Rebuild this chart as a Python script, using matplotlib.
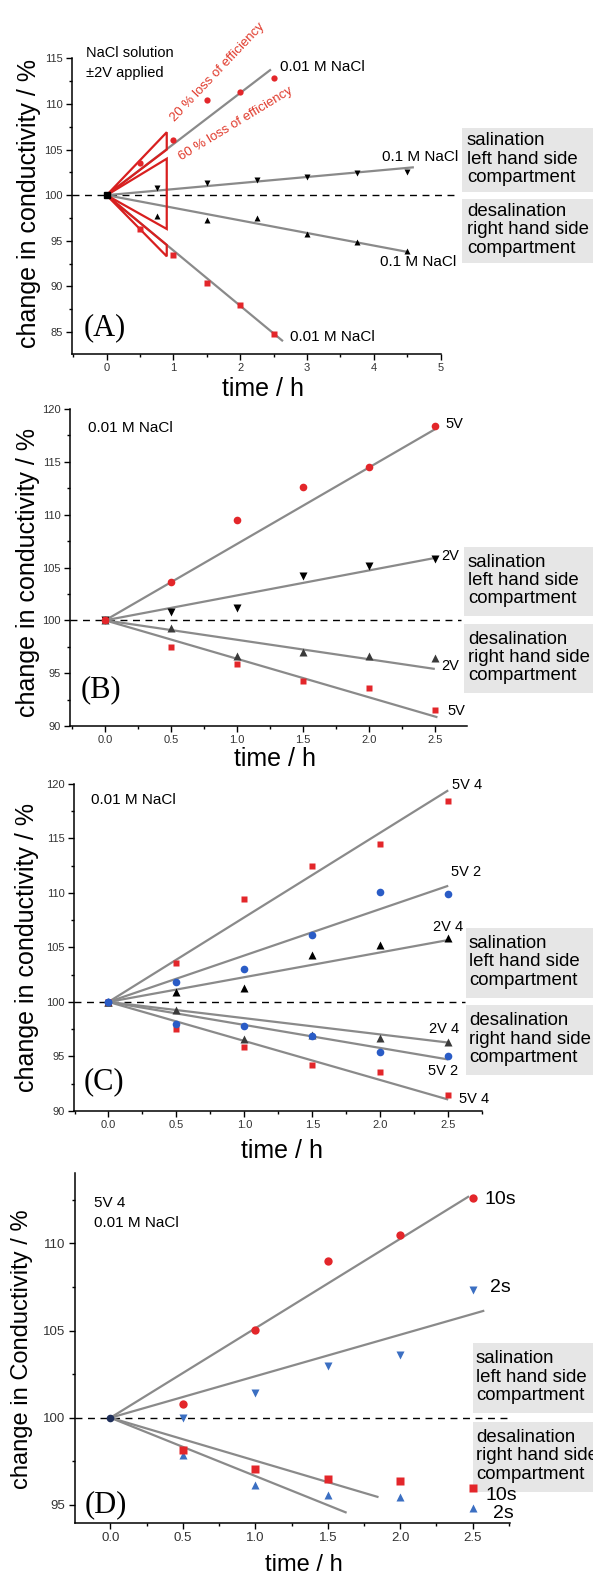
import numpy as np
import matplotlib.pyplot as plt
from matplotlib.patches import Rectangle, Polygon
from matplotlib.ticker import MultipleLocator

plt.rcParams['font.family'] = ['Liberation Sans', 'DejaVu Sans']

W, H = 593, 1576

# ---------------- data ----------------
# (A) NaCl solution, +-2V
a_t = [0, 0.5, 1.0, 1.5, 2.0, 2.5]
a_sal_001 = [100, 103.5, 106.0, 110.4, 111.3, 112.8]
a_des_001 = [100, 96.3, 93.5, 90.4, 88.0, 84.8]
a_t_01 = [0.75, 1.5, 2.25, 3.0, 3.75, 4.5]
a_sal_01 = [100.8, 101.3, 101.7, 102.0, 102.4, 102.5]
a_des_01 = [97.7, 97.3, 97.55, 95.7, 94.9, 93.9]
a_fit_slope = [5.6, -6.06, 0.665, -1.38]
a_fit_end = [2.46, 2.64, 4.6, 4.52]
a_tri_20 = [(0, 100), (0.9, 106.9), (0.9, 105.0)]
a_tri_60 = [(0, 100), (0.9, 104.0), (0.9, 96.3)]
a_tri_low = [(0, 100), (0.9, 94.55), (0.9, 93.3)]

# (B) 0.01 M NaCl, 5V / 2V
b_t = [0, 0.5, 1.0, 1.5, 2.0, 2.5]
b_sal_5v = [100, 103.6, 109.5, 112.6, 114.5, 118.4]
b_sal_2v = [100, 100.8, 101.2, 104.2, 105.1, 105.8]
b_des_2v = [100, 99.3, 96.6, 97.0, 96.6, 96.4]
b_des_5v = [100, 97.5, 95.9, 94.3, 93.6, 91.5]
b_fit_slope = [7.23, 2.36, -1.84, -3.64]
b_fit_end = [2.5, 2.5, 2.5, 2.52]

# (C) 0.01 M NaCl, 5V 4 / 5V 2 / 2V 4
c_t = [0, 0.5, 1.0, 1.5, 2.0, 2.5]
c_sal_54 = [100, 103.6, 109.4, 112.5, 114.5, 118.4]
c_sal_52 = [100, 101.85, 103.0, 106.1, 110.1, 109.9]
c_sal_24 = [100, 100.9, 101.3, 104.3, 105.2, 105.9]
c_des_24 = [100, 99.3, 96.6, 97.0, 96.65, 96.3]
c_des_52 = [100, 98.0, 97.8, 96.9, 95.4, 95.05]
c_des_54 = [100, 97.5, 95.9, 94.2, 93.6, 91.45]
c_fit_slope = [7.76, 4.26, 2.27, -1.49, -2.11, -3.58]
c_fit_end = [2.5, 2.5, 2.5, 2.5, 2.5, 2.5]

# (D) 5V 4, 0.01 M NaCl, 10s / 2s
d_t = [0, 0.5, 1.0, 1.5, 2.0, 2.5]
d_sal_10 = [100, 100.8, 105.03, 108.97, 110.46, 112.6]
d_sal_2 = [100, 100.0, 101.4, 102.98, 103.6, 107.3]
d_des_10 = [100, 98.15, 97.04, 96.47, 96.37, 95.95]
d_des_2 = [100, 97.86, 96.12, 95.57, 95.44, 94.8]
d_fit_slope = [5.13, 2.38, -2.46, -3.34]
d_fit_end = [2.475, 2.58, 1.85, 1.63]

RED = '#e3262a'
BLUE = '#2a5cc6'
BLUE_D = '#3b6fc2'
GREY = '#8a8a8a'
BOX = '#e6e6e6'

fig = plt.figure(figsize=(W / 100, H / 100), dpi=100)


def ax_at(l, r, t, b, lsize=8):
    ax = fig.add_axes([l / W, 1 - b / H, (r - l) / W, (b - t) / H])
    ax.set_zorder(2)
    ax.patch.set_visible(False)
    for s in ['top', 'right']:
        ax.spines[s].set_visible(False)
    for s in ['left', 'bottom']:
        ax.spines[s].set_linewidth(1.1)
    ax.tick_params(which='both', direction='out', colors='black', labelcolor='#333333',
                   labelsize=lsize, pad=2.5)
    ax.tick_params(which='major', length=4, width=1)
    ax.tick_params(which='minor', length=2.5, width=1)
    return ax


def ftext(x, y, s, **kw):
    fig.text(x / W, 1 - y / H, s, **kw)


def box(x, y0, y1, lines, tx):
    fig.add_artist(Rectangle((x / W, 1 - y1 / H), (W - x) / W, (y1 - y0) / H,
                             transform=fig.transFigure, color=BOX, zorder=1, lw=0))
    ftext(tx, (y0 + y1) / 2 - 1, lines, fontsize=13.4, ha='left', va='center',
          linespacing=1.1, zorder=3)


def fits(ax, slopes, ends):
    for k, e in zip(slopes, ends):
        xs = np.array([0, e])
        ax.plot(xs, 100 + k * xs, color=GREY, lw=1.6, zorder=2, solid_capstyle='butt')


def dash(ax, x0, x1):
    ax.plot([x0, x1], [100, 100], color='black', lw=1, ls=(0, (5, 4)), zorder=1, clip_on=False)


SAL = 'salination\nleft hand side\ncompartment'
DES = 'desalination\nright hand side\ncompartment'

# ---------------- (A) ----------------
ax = ax_at(71.9, 440.6, 58.3, 354)
ax.set_xlim(-0.52, 5)
ax.set_ylim(82.6, 115)
ax.xaxis.set_major_locator(MultipleLocator(1))
ax.xaxis.set_minor_locator(MultipleLocator(0.5))
ax.yaxis.set_major_locator(MultipleLocator(5))
ax.yaxis.set_minor_locator(MultipleLocator(2.5))
dash(ax, -0.52, 5.25)
fits(ax, a_fit_slope, a_fit_end)
for tri in [a_tri_20, a_tri_60, a_tri_low]:
    ax.add_patch(Polygon(tri, closed=True, fill=False, ec='#d81f1f', lw=1.6, zorder=3,
                         joinstyle='miter'))
ax.plot(a_t, a_sal_001, 'o', color=RED, ms=4.5, mec='none', zorder=4)
ax.plot(a_t, a_des_001, 's', color=RED, ms=4.2, mec='none', zorder=4)
ax.plot(a_t_01, a_sal_01, 'v', color='black', ms=5, mec='none', zorder=4)
ax.plot(a_t_01, a_des_01, '^', color='black', ms=5, mec='none', zorder=4)
ax.plot([0], [100], 's', color='black', ms=4.5, zorder=5)
ftext(29, 203, 'change in conductivity / %', rotation=90, fontsize=18, ha='center', va='center')
ftext(263, 389, 'time / h', fontsize=18, ha='center', va='center')
ftext(86, 53, 'NaCl solution', fontsize=10.5, ha='left', va='center')
ftext(86, 73, '±2V applied', fontsize=10.5, ha='left', va='center')
ftext(280, 67, '0.01 M NaCl', fontsize=11, ha='left', va='center')
ftext(458, 157, '0.1 M NaCl', fontsize=11, ha='right', va='center')
ftext(380, 262, '0.1 M NaCl', fontsize=11, ha='left', va='center')
ftext(290, 337, '0.01 M NaCl', fontsize=11, ha='left', va='center')
ftext(84, 328, '(A)', fontsize=22, family='Liberation Serif', ha='left', va='center')
ftext(218, 72, '20 % loss of efficiency', fontsize=9.5, color='#e0392b', rotation=46.6,
      ha='center', va='center')
ftext(236, 124, '60 % loss of efficiency', fontsize=9.5, color='#e0392b', rotation=31.3,
      ha='center', va='center')
box(462, 128, 192, SAL, 467)
box(462, 199, 263, DES, 467)

# ---------------- (B) ----------------
ax = ax_at(70, 467.1, 409, 726)
ax.set_xlim(-0.267, 2.745)
ax.set_ylim(90, 120)
ax.xaxis.set_major_locator(MultipleLocator(0.5))
ax.xaxis.set_minor_locator(MultipleLocator(0.25))
ax.yaxis.set_major_locator(MultipleLocator(5))
ax.yaxis.set_minor_locator(MultipleLocator(2.5))
ax.xaxis.set_major_formatter(plt.FormatStrFormatter('%.1f'))
dash(ax, -0.267, 2.70)
fits(ax, b_fit_slope, b_fit_end)
ax.plot(b_t, b_sal_2v, 'v', color='black', ms=5.5, mec='none', zorder=4)
ax.plot(b_t, b_des_2v, '^', color='#3a3a3a', ms=5.5, mec='none', zorder=4)
ax.plot(b_t, b_des_5v, 's', color=RED, ms=5, mec='none', zorder=4)
ax.plot(b_t, b_sal_5v, 'o', color=RED, ms=5.5, mec='none', zorder=4)
ftext(28, 573, 'change in conductivity / %', rotation=90, fontsize=18, ha='center', va='center')
ftext(275, 759, 'time / h', fontsize=18, ha='center', va='center')
ftext(88, 428, '0.01 M NaCl', fontsize=11, ha='left', va='center')
ftext(445, 424, '5V', fontsize=10.5, ha='left', va='center')
ftext(441, 556, '2V', fontsize=10.5, ha='left', va='center')
ftext(441, 666, '2V', fontsize=10.5, ha='left', va='center')
ftext(447, 711, '5V', fontsize=10.5, ha='left', va='center')
ftext(81, 690, '(B)', fontsize=22, family='Liberation Serif', ha='left', va='center')
box(464, 547, 616, SAL, 468)
box(464, 624, 693, DES, 468)

# ---------------- (C) ----------------
ax = ax_at(73.7, 482.2, 783.8, 1111)
ax.set_xlim(-0.256, 2.75)
ax.set_ylim(90, 120)
ax.xaxis.set_major_locator(MultipleLocator(0.5))
ax.xaxis.set_minor_locator(MultipleLocator(0.25))
ax.yaxis.set_major_locator(MultipleLocator(5))
ax.yaxis.set_minor_locator(MultipleLocator(2.5))
ax.xaxis.set_major_formatter(plt.FormatStrFormatter('%.1f'))
dash(ax, -0.256, 2.62)
fits(ax, c_fit_slope, c_fit_end)
ax.plot(c_t, c_sal_24, '^', color='black', ms=5.5, mec='none', zorder=4)
ax.plot(c_t, c_des_24, '^', color='#3a3a3a', ms=5.5, mec='none', zorder=4)
ax.plot(c_t, c_sal_54, 's', color=RED, ms=5, mec='none', zorder=4)
ax.plot(c_t, c_des_54, 's', color=RED, ms=5, mec='none', zorder=4)
ax.plot(c_t, c_sal_52, 'o', color=BLUE, ms=5.5, mec='none', zorder=4)
ax.plot(c_t, c_des_52, 'o', color=BLUE, ms=5.5, mec='none', zorder=4)
ftext(27, 948, 'change in conductivity / %', rotation=90, fontsize=18, ha='center', va='center')
ftext(282, 1151, 'time / h', fontsize=18, ha='center', va='center')
ftext(91, 800, '0.01 M NaCl', fontsize=11, ha='left', va='center')
ftext(452, 785, '5V 4', fontsize=10.5, ha='left', va='center')
ftext(451, 872, '5V 2', fontsize=10.5, ha='left', va='center')
ftext(433, 927, '2V 4', fontsize=10.5, ha='left', va='center')
ftext(429, 1029, '2V 4', fontsize=10.5, ha='left', va='center')
ftext(428, 1071, '5V 2', fontsize=10.5, ha='left', va='center')
ftext(459, 1099, '5V 4', fontsize=10.5, ha='left', va='center')
ftext(84, 1082, '(C)', fontsize=22, family='Liberation Serif', ha='left', va='center')
box(466, 928, 998, SAL, 469)
box(466, 1005, 1075, DES, 469)

# ---------------- (D) ----------------
ax = ax_at(74.5, 509.8, 1173, 1523.3, lsize=9.5)
ax.set_xlim(-0.248, 2.756)
ax.set_ylim(93.95, 114.03)
ax.xaxis.set_major_locator(MultipleLocator(0.5))
ax.xaxis.set_minor_locator(MultipleLocator(0.25))
ax.yaxis.set_major_locator(MultipleLocator(5))
ax.yaxis.set_minor_locator(MultipleLocator(2.5))
ax.xaxis.set_major_formatter(plt.FormatStrFormatter('%.1f'))
dash(ax, -0.248, 2.756)
fits(ax, d_fit_slope, d_fit_end)
ax.plot(d_t[1:], d_sal_2[1:], 'v', color=BLUE_D, ms=6, mec='none', zorder=4)
ax.plot(d_t[1:], d_des_2[1:], '^', color=BLUE_D, ms=6, mec='none', zorder=4)
ax.plot(d_t[1:], d_des_10[1:], 's', color=RED, ms=5.5, mec='none', zorder=4)
ax.plot(d_t[1:], d_sal_10[1:], 'o', color=RED, ms=6, mec='none', zorder=4)
ax.plot(d_t[:1], d_sal_10[:1], 'o', color='#1f2f5a', ms=5.5, mec='none', zorder=5)
ftext(22, 1349, 'change in Conductivity / %', rotation=90, fontsize=17, ha='center', va='center')
ftext(304, 1565, 'time / h', fontsize=17, ha='center', va='center')
ftext(94, 1203, '5V 4', fontsize=11, ha='left', va='center')
ftext(94, 1223, '0.01 M NaCl', fontsize=11, ha='left', va='center')
ftext(485, 1200, '10s', fontsize=14, ha='left', va='center')
ftext(490, 1287, '2s', fontsize=14, ha='left', va='center')
ftext(486, 1495, '10s', fontsize=14, ha='left', va='center')
ftext(493, 1513, '2s', fontsize=14, ha='left', va='center')
ftext(85, 1505, '(D)', fontsize=22, family='Liberation Serif', ha='left', va='center')
box(473, 1343, 1413, SAL, 476)
box(473, 1422, 1492, DES, 476)

fig.savefig('out.png', dpi=100, facecolor='white')
